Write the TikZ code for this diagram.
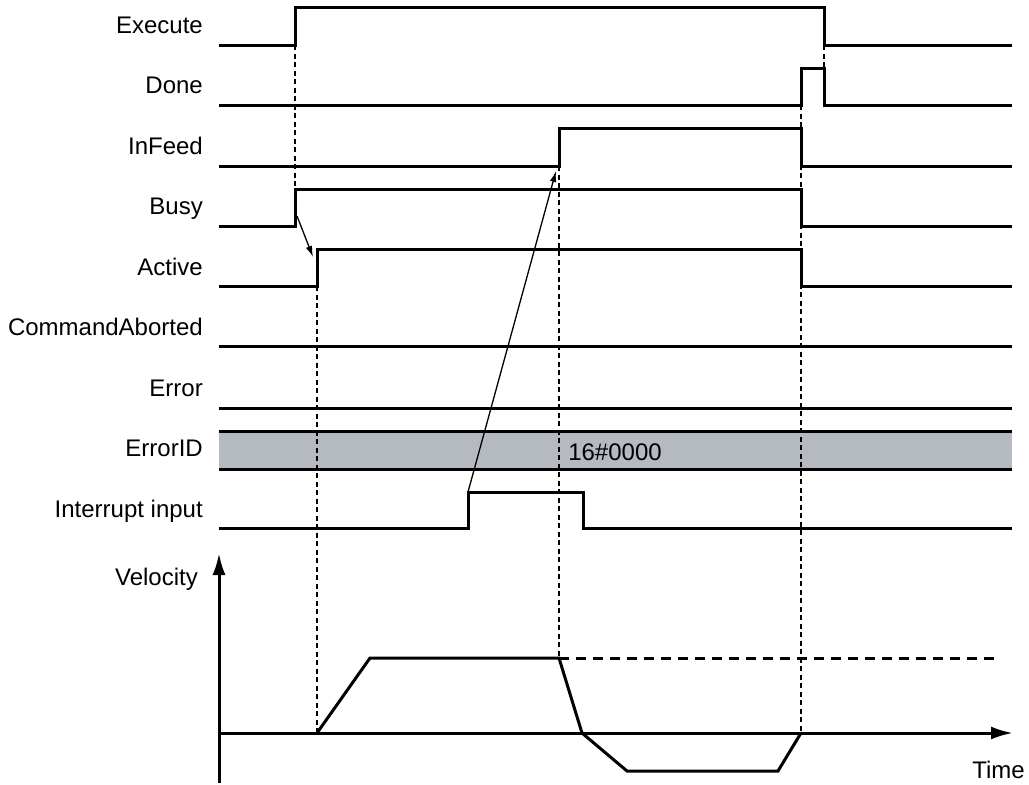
\documentclass[tikz,border=0pt]{standalone}
\usepackage{fontspec}
\setmainfont{Liberation Sans}
\usetikzlibrary{arrows.meta,positioning}

\definecolor{idgray}{RGB}{181,186,193}

\begin{document}
\begin{tikzpicture}[x=1pt, y=-1pt,
    lbl/.style={inner sep=0pt, anchor=base east, font=\fontsize{24}{28}\selectfont},
    sig/.style={line width=3pt, line join=miter},
    guide/.style={line width=1.2pt, dash pattern=on 5pt off 3.5pt},
    ar/.style={line width=1.3pt, -{Latex[length=11pt,width=6.5pt]}},
    axis/.style={line width=3pt, -{Latex[length=22pt,width=13pt]}}]
    \useasboundingbox (0,0) rectangle (1029,785);

    % signal names
    \node [lbl] (execute) at (203,33) {Execute};
    \node [lbl] (done) at (203,93.5) {Done};
    \node [lbl] (infeed) at (203,154) {InFeed};
    \node [lbl] (busy) at (203,214.5) {Busy};
    \node [lbl] (active) at (203,275) {Active};
    \node [lbl] (cmdab) at (203,335.5) {CommandAborted};
    \node [lbl] (error) at (203,396) {Error};
    \node [lbl] (errid) at (203,456.5) {ErrorID};
    \node [lbl] (intin) at (203,517) {Interrupt input};
    \node [lbl] (vel) at (198,585) {Velocity};
    \node [lbl] (time) at (1025,778) {Time};

    % ErrorID band
    \fill [idgray] (219,431) rectangle (1012,469);
    \draw [sig] (219,431) -- (1012,431);
    \draw [sig] (219,469) -- (1012,469);
    \node [inner sep=0pt, anchor=base, font=\fontsize{24}{28}\selectfont] (idval) at (615,460) {16\#0000};

    % guide lines
    \draw [guide] (295,45) -- (295,189);
    \draw [guide] (317,286) -- (317,733);
    \draw [guide] (559,166) -- (559,658);
    \draw [guide] (801,105) -- (801,733);
    \draw [guide] (824,45) -- (824,68);

    % waveforms
    \draw [sig] (219,45) -- (295,45) -- (295,7) -- (824,7) -- (824,45) -- (1012,45);
    \draw [sig] (219,105) -- (801,105) -- (801,68) -- (824,68) -- (824,105) -- (1012,105);
    \draw [sig] (219,166) -- (559,166) -- (559,128) -- (801,128) -- (801,166) -- (1012,166);
    \draw [sig] (219,226) -- (295,226) -- (295,189) -- (801,189) -- (801,226) -- (1012,226);
    \draw [sig] (219,286) -- (317,286) -- (317,249) -- (801,249) -- (801,286) -- (1012,286);
    \draw [sig] (219,346) -- (1012,346);
    \draw [sig] (219,408) -- (1012,408);
    \draw [sig] (219,528) -- (468,528) -- (468,492) -- (583,492) -- (583,528) -- (1012,528);

    % causes
    \coordinate (busyup) at (297,216);
    \coordinate (activeup) at (313,257);
    \coordinate (intup) at (468,492);
    \coordinate (infeedup) at (556,171);
    \draw [ar] (busyup) -- (activeup);
    \draw [ar] (intup) -- (infeedup);

    % velocity graph
    \coordinate (orig) at (219,733);
    \draw [axis] (219,783) -- (219,553);
    \draw [axis] (orig) -- (1013,733);
    \draw [sig] (317,733) -- (370,658) -- (559,658) -- (582,733) -- (627,771) -- (778,771) -- (801,733);
    \draw [line width=3pt, dash pattern=on 10pt off 7pt] (559,658) -- (997,658);
\end{tikzpicture}
\end{document}
